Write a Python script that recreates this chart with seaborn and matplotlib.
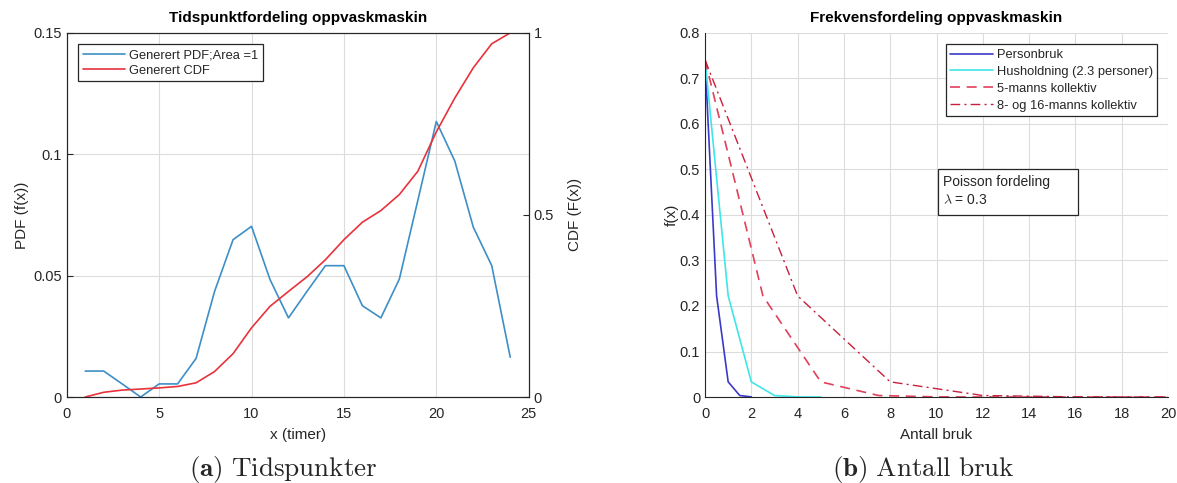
import numpy as np
import pandas as pd
import matplotlib
matplotlib.use('Agg')
import matplotlib.pyplot as plt
import matplotlib.patches as mpatches
import seaborn as sns

# ---- data: left panel (time of use) ----
hours = [1, 2, 3, 4, 5, 6, 7, 8, 9, 10, 11, 12, 13, 14, 15, 16, 17, 18, 19, 20, 21, 22, 23, 24]
pdf_vals = [0.0107, 0.0107, 0.0054, 0.0, 0.0054, 0.0054, 0.0159, 0.0435, 0.0648, 0.0703,
            0.0484, 0.0326, 0.0435, 0.0541, 0.0541, 0.0376, 0.0326, 0.0486, 0.081, 0.1135,
            0.0972, 0.070, 0.0541, 0.0164]
cdf_vals = [0.0, 0.013, 0.019, 0.022, 0.025, 0.029, 0.039, 0.070, 0.119, 0.190,
            0.249, 0.290, 0.330, 0.377, 0.432, 0.480, 0.512, 0.556, 0.620, 0.728,
            0.821, 0.904, 0.970, 1.0]

# ---- data: right panel (number of uses, Poisson lambda = 0.3) ----
x_person = [0, 0.5, 1, 1.5, 2]
y_person = [0.7408, 0.2222, 0.0333, 0.0033, 0.0003]
x_hus = [0, 1, 2, 3, 4, 5]
y_hus = [0.7408, 0.2222, 0.0333, 0.0033, 0.0003, 0.0]
x_five = [0, 2.5, 5, 7.5, 10, 12.5, 15, 17.5, 20]
y_five = [0.7408, 0.2222, 0.0333, 0.0033, 0.0003, 0.0, 0.0, 0.0, 0.0]
x_eight = [0, 4, 8, 12, 16, 20]
y_eight = [0.7408, 0.2222, 0.0333, 0.0033, 0.0003, 0.0]

series_labels = ['Personbruk', 'Husholdning (2.3 personer)', '5-manns kollektiv', '8- og 16-manns kollektiv']

sns.set_style('white')
plt.rcParams['font.family'] = ['Liberation Sans', 'DejaVu Sans']
plt.rcParams['mathtext.fontset'] = 'cm'

AX_COL = '#262626'
GRID_COL = '#dcdcdc'

fig = plt.figure(figsize=(11.77, 4.83), dpi=100)
ax1 = fig.add_axes([0.0567, 0.178, 0.3925, 0.754])
ax3 = fig.add_axes([0.599, 0.178, 0.3934, 0.754])


def style_axes(ax):
    ax.tick_params(direction='in', length=4, width=0.8, colors=AX_COL, labelsize=10.5,
                   labelcolor=AX_COL)
    ax.tick_params(axis='x', pad=7.5)
    ax.grid(True, color=GRID_COL, linewidth=0.8)
    ax.set_axisbelow(True)
    for s in ax.spines.values():
        s.set_color(AX_COL)
        s.set_linewidth(0.8)


# ---- left panel ----
sns.lineplot(x=hours, y=pdf_vals, ax=ax1, color='#3d8fc6', linewidth=1.2,
             label='Generert PDF;Area =1', legend=False)
ax2 = ax1.twinx()
sns.lineplot(x=hours, y=cdf_vals, ax=ax2, color='#e8323c', linewidth=1.2,
             label='Generert CDF', legend=False)

ax1.set_xlim(0, 25)
ax1.set_ylim(0, 0.15)
ax1.set_xticks([0, 5, 10, 15, 20, 25])
ax1.set_yticks([0, 0.05, 0.1, 0.15])
ax1.set_yticklabels(['0', '0.05', '0.1', '0.15'])
ax2.set_ylim(0, 1)
ax2.set_yticks([0, 0.5, 1])
ax2.set_yticklabels(['0', '0.5', '1'])
style_axes(ax1)
ax2.tick_params(direction='in', length=4, width=0.8, colors=AX_COL, labelsize=10.5)
ax1.tick_params(top=False, right=False)
ax2.grid(False)
for s in ax2.spines.values():
    s.set_color(AX_COL)
    s.set_linewidth(0.8)

ax1.set_title('Tidspunktfordeling oppvaskmaskin', fontsize=11, fontweight='bold', color='black', pad=8)
ax1.set_xlabel('x (timer)', fontsize=11, color=AX_COL, labelpad=5)
ax1.set_ylabel('PDF (f(x))', fontsize=11, color=AX_COL, labelpad=3)
ax2.set_ylabel('CDF (F(x))', fontsize=11, color=AX_COL, labelpad=10)

h1, l1 = ax1.get_legend_handles_labels()
h2, l2 = ax2.get_legend_handles_labels()
leg = ax2.legend(h1 + h2, l1 + l2, loc='upper left', bbox_to_anchor=(0.0245, 0.968),
                 fontsize=9.3, frameon=True, fancybox=False, framealpha=1,
                 edgecolor=AX_COL, handlelength=3.3, handletextpad=0.3,
                 borderpad=0.35, labelspacing=0.3, borderaxespad=0)
leg.get_frame().set_linewidth(0.9)

# ---- right panel ----
sns.lineplot(x=x_person, y=y_person, ax=ax3, color='#3a3ac8', linewidth=1.2, label=series_labels[0])
sns.lineplot(x=x_hus, y=y_hus, ax=ax3, color='#3fe6e6', linewidth=1.2, label=series_labels[1])
sns.lineplot(x=x_five, y=y_five, ax=ax3, color='#e0405a', linewidth=1.2,
             linestyle=(0, (6, 4)), label=series_labels[2])
sns.lineplot(x=x_eight, y=y_eight, ax=ax3, color='#c8203c', linewidth=1.0,
             linestyle=(0, (7, 3, 1.5, 3)), label=series_labels[3])

ax3.set_xlim(0, 20)
ax3.set_ylim(0, 0.8)
ax3.set_xticks(range(0, 21, 2))
ax3.set_yticks([0, 0.1, 0.2, 0.3, 0.4, 0.5, 0.6, 0.7, 0.8])
ax3.set_yticklabels(['0', '0.1', '0.2', '0.3', '0.4', '0.5', '0.6', '0.7', '0.8'])
style_axes(ax3)
ax3.spines['top'].set_visible(False)
ax3.spines['right'].set_visible(False)

ax3.set_title('Frekvensfordeling oppvaskmaskin', fontsize=11, fontweight='bold', color='black', pad=8)
ax3.set_xlabel('Antall bruk', fontsize=11, color=AX_COL, labelpad=5)
ax3.set_ylabel('f(x)', fontsize=11, color=AX_COL, labelpad=1)

leg3 = ax3.legend(loc='upper left', bbox_to_anchor=(0.520, 0.968), fontsize=9.3,
                  frameon=True, fancybox=False, framealpha=1, edgecolor=AX_COL,
                  handlelength=3.3, handletextpad=0.3, borderpad=0.35,
                  labelspacing=0.37, borderaxespad=0)
leg3.get_frame().set_linewidth(0.9)

# annotation box with fixed size, like the original text box
ax3.add_patch(mpatches.Rectangle((10.05, 0.399), 6.05, 0.103, facecolor='white',
                                 edgecolor=AX_COL, linewidth=0.9, zorder=4))
ax3.text(10.3, 0.452, 'Poisson fordeling\n$\\lambda$ = 0.3', fontsize=10, color=AX_COL,
         va='center', ha='left', linespacing=1.35, zorder=5)

# ---- captions ----
fig.text(0.2404, 0.014, r'$\mathbf{(a)}\ \mathrm{Tidspunkter}$', fontsize=19.5, ha='center', va='baseline')
fig.text(0.7842, 0.014, r'$\mathbf{(b)}\ \mathrm{Antall\ bruk}$', fontsize=19.5, ha='center', va='baseline')

fig.savefig('out.png', dpi=100)
plt.close(fig)
